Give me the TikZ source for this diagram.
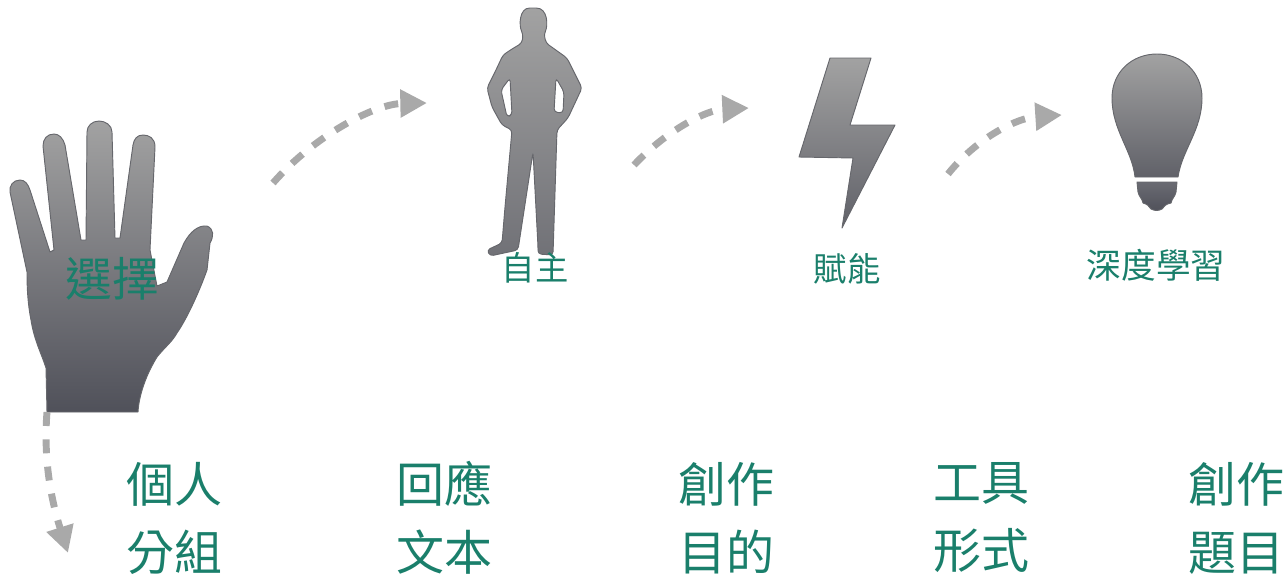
\documentclass[tikz,border=0pt]{standalone}
\usepackage{fontspec}
\setmainfont{Noto Sans CJK TC}
\usetikzlibrary{arrows.meta}
\definecolor{labelgreen}{HTML}{1A7F6B}
\definecolor{shapetop}{HTML}{A2A2A2}
\definecolor{shapebottom}{HTML}{50515A}
\definecolor{shapeline}{HTML}{66676C}
\definecolor{trailgray}{HTML}{A9A9A9}
\begin{document}
\begin{tikzpicture}[x=0.75pt, y=-0.75pt]
		\tikzstyle{all} = [text=labelgreen, align=center, inner sep=0pt]
		\tikzstyle{smalllabel} = [all, font=\fontsize{25}{30}\selectfont]
		\tikzstyle{biglabel} = [all, font=\fontsize{36}{51}\selectfont]
		\tikzstyle{icon} = [draw=shapeline, line width=0.7pt, top color=shapetop, bottom color=shapebottom, line join=round]
		\tikzstyle{trail} = [draw=trailgray, line width=5.2pt, dash pattern=on 10.5pt off 10pt, -{Triangle[length=20pt, width=20pt, fill=trailgray]}]
		\useasboundingbox (0,0) rectangle (1288,579);
		% hand
		\path[icon] (20,180) .. controls (13,180) and (9,186) .. (10,192) -- (27,272)
			.. controls (27,290) and (28,305) .. (31,320) .. controls (34,340) and (42,355) .. (46,368)
			-- (47,412) -- (138,412) .. controls (139,395) and (146,375) .. (157,357)
			.. controls (165,347) and (172,342) .. (177,333) .. controls (186,320) and (198,295) .. (207,270)
			-- (210,243) .. controls (214,236) and (214,229) .. (207,226) .. controls (198,225) and (190,232) .. (184,243)
			-- (167,282) -- (157,286) -- (150,250) -- (155,147)
			.. controls (155,138) and (149,135) .. (143,135) .. controls (137,135) and (134,139) .. (133,145)
			-- (120,238) -- (115,238) -- (112,132)
			.. controls (112,125) and (105,121) .. (99,121) .. controls (92,121) and (87,126) .. (87,132)
			-- (86,240) -- (81,240) -- (65,145)
			.. controls (63,138) and (59,134) .. (54,134) .. controls (47,134) and (43,139) .. (43,146)
			-- (54,250) -- (50,252) -- (30,190) .. controls (28,184) and (25,180) .. (20,180) -- cycle;
		% person
		\path[icon, even odd rule, bottom color=shapebottom!60!shapetop, rounded corners=2.5pt] (512,49) -- (503,55) -- (495,72) -- (487,88)
			-- (492,107) -- (502,125) -- (512,130) -- (505,207) -- (502,243) -- (487,250) -- (490,256)
			-- (518,250) -- (533,152) -- (538,247) -- (538,254) -- (553,255) -- (557,130) -- (568,118)
			-- (582,88) -- (567,58) -- (546,43) -- (544,34) .. controls (548,26) and (548,8) .. (533,8)
			.. controls (519,8) and (519,26) .. (523,34) -- (522,43) -- cycle
			(510,78) -- (501,90) -- (507,117) -- (512,115) -- cycle
			(556,78) -- (564,92) -- (563,113) -- (554,112) -- cycle;
		% bolt
		\path[icon, bottom color=shapebottom!80!shapetop] (830,58) -- (871,58) -- (850,125) -- (895,125) -- (842,228) -- (853,158) -- (799,157) -- cycle;
		% bulb
		\path[icon, bottom color=shapebottom!80!shapetop] (1135,177) .. controls (1132,150) and (1112,130) .. (1112,98)
			.. controls (1112,72) and (1132,54) .. (1157,54) .. controls (1182,54) and (1202,72) .. (1202,98)
			.. controls (1202,130) and (1182,150) .. (1178,177) -- cycle;
		\path[icon, top color=shapebottom!85!white, bottom color=shapebottom] (1137,182) -- (1177,182) -- (1176,192)
			.. controls (1175,197) and (1172,198) .. (1171,203) .. controls (1166,204) and (1164,206) .. (1162,209)
			.. controls (1158,211) and (1155,211) .. (1151,209) .. controls (1149,206) and (1147,204) .. (1143,203)
			.. controls (1142,198) and (1139,197) .. (1138,192) -- cycle;
		% dashed arrows
		\coordinate (handfrom) at (273,183);
		\coordinate (personto) at (427,103);
		\coordinate (personfrom) at (634,165);
		\coordinate (boltto) at (749,108);
		\coordinate (boltfrom) at (948,174);
		\coordinate (bulbto) at (1062,115);
		\coordinate (handstart) at (47,412);
		\coordinate (handend) at (68,553);
		\draw[trail] (handfrom) .. controls (315,135) and (375,104) .. (personto);
		\draw[trail] (personfrom) .. controls (665,132) and (705,110) .. (boltto);
		\draw[trail] (boltfrom) .. controls (975,140) and (1015,118) .. (bulbto);
		\draw[trail] (handstart) .. controls (44,450) and (48,490) .. (handend);
		% labels
		\node[all, font=\fontsize{35}{40}\selectfont] (choose) at (112,279) {選擇};
		\node[smalllabel] (autonomy) at (535,268) {自主};
		\node[smalllabel] (empower) at (847,269) {賦能};
		\node[all, font=\fontsize{26}{30}\selectfont] (deeplearn) at (1156,265) {深度學習};
		\node[biglabel] (group) at (174,518) {個人\\分組};
		\node[biglabel] (respond) at (444,518) {回應\\文本};
		\node[biglabel] (purpose) at (726,518) {創作\\目的};
		\node[biglabel] (form) at (981,518) {工具\\形式};
		\node[biglabel] (topic) at (1236,518) {創作\\題目};
\end{tikzpicture}
\end{document}
